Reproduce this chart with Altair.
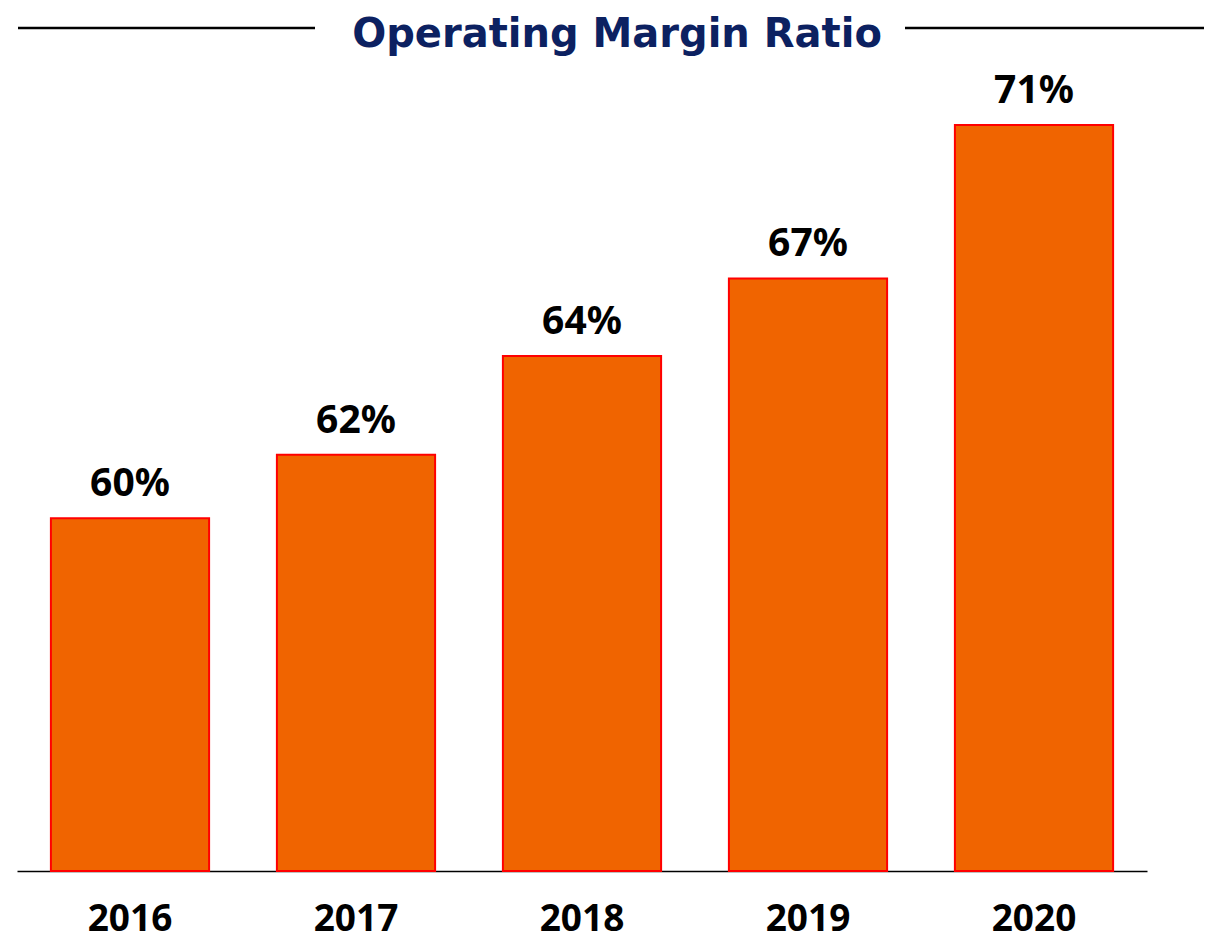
import altair as alt
import pandas as pd

years = ["2016", "2017", "2018", "2019", "2020"]
margins = [60.0, 61.8, 64.6, 66.8, 71.15]
labels = ["60%", "62%", "64%", "67%", "71%"]

title_text = "Operating Margin Ratio"

df = pd.DataFrame({"year": years, "margin": margins, "label": labels})

FONT = "Noto Sans"

x_enc = alt.X(
    "year:N",
    sort=years,
    scale=alt.Scale(paddingInner=0.3, paddingOuter=0.15),
    axis=alt.Axis(
        title=None,
        labelFont=FONT,
        labelFontSize=37,
        labelFontWeight="bold",
        labelColor="#000000",
        labelBaseline="alphabetic",
        labelPadding=59,
        labelAngle=0,
        ticks=False,
        domainColor="#000000",
        domainWidth=1.5,
    ),
)
y_enc = alt.Y(
    "margin:Q",
    scale=alt.Scale(domain=[50, 72], zero=False, nice=False, clamp=True),
    axis=None,
)

base = alt.Chart(df)

bars = base.mark_bar(
    color="#F06400", stroke="#FF0000", strokeWidth=2, clip=False
).encode(x=x_enc, y=y_enc, y2=alt.datum(50))

texts = base.mark_text(
    font=FONT, fontSize=39, fontWeight="bold", color="#000000",
    baseline="alphabetic", dy=-22
).encode(x=x_enc, y=y_enc, text="label:N")

title_df = pd.DataFrame({"t": [title_text]})
title = alt.Chart(title_df).mark_text(
    font="DejaVu Sans", fontSize=40, fontWeight="bold", color="#0C2161",
    baseline="alphabetic", align="center"
).encode(x=alt.value(600), y=alt.value(-48), text="t:N")

left_line = alt.Chart(title_df).mark_rule(color="#000000", strokeWidth=2.5).encode(
    x=alt.value(1), x2=alt.value(298), y=alt.value(-67)
)
right_line = alt.Chart(title_df).mark_rule(color="#000000", strokeWidth=2.5).encode(
    x=alt.value(888), x2=alt.value(1188), y=alt.value(-67)
)

chart = alt.layer(bars, texts, left_line, right_line, title).properties(
    width=1130,
    height=776,
    background="#ffffff",
    autosize=alt.AutoSizeParams(type="none"),
    padding={"left": 9, "top": 87, "right": 57, "bottom": 70},
).configure_view(stroke=None)

chart.save("out.html", embed_options={"renderer": "svg", "actions": False})
